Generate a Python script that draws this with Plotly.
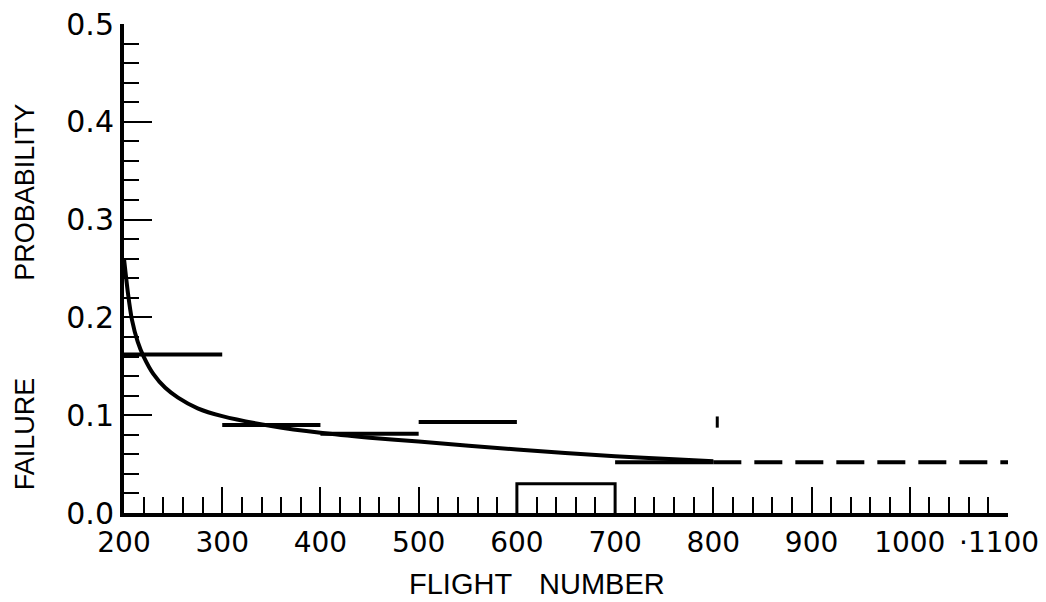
import plotly.graph_objects as go

# fitted failure-probability curve (solid)
curve_flight = [200, 204, 208, 214, 220, 230, 242, 255, 275, 300, 350, 400, 450, 500, 600, 700, 760, 800]
curve_prob = [0.26, 0.225, 0.198, 0.175, 0.16, 0.142, 0.128, 0.118, 0.107, 0.099, 0.089, 0.082, 0.077, 0.073, 0.065, 0.058, 0.055, 0.053]

# extrapolation (dashed)
extra_flight = [800, 1100]
extra_prob = [0.052, 0.052]

# observed rate per 100-flight block
block_start = [200, 300, 400, 500, 700]
block_end = [300, 400, 500, 600, 800]
block_prob = [0.162, 0.09, 0.081, 0.093, 0.052]

# 600-700 block drawn as a bracket
bracket_flight = [600, 600, 700, 700]
bracket_prob = [0.0, 0.03, 0.03, 0.0]

# stray mark near flight 800
mark_flight = [804]
mark_prob = [0.093]

x_ticks = [200, 300, 400, 500, 600, 700, 800, 900, 1000, 1100]
# trailing no-break spaces pull the last label left so it stays inside the page
x_labels = ["200", "300", "400", "500", "600", "700", "800", "900", "1000",
            "\u00b71100\u00a0\u00a0"]
y_ticks = [0.0, 0.1, 0.2, 0.3, 0.4, 0.5]
y_labels = ["0.0", "0.1", "0.2", "0.3", "0.4", "0.5"]

ink = "black"

fig = go.Figure()

for x0, x1, p in zip(block_start, block_end, block_prob):
    fig.add_trace(go.Scatter(x=[x0, x1], y=[p, p], mode="lines",
                             line=dict(color=ink, width=4)))

fig.add_trace(go.Scatter(x=bracket_flight, y=bracket_prob, mode="lines",
                         line=dict(color=ink, width=3)))

fig.add_trace(go.Scatter(x=curve_flight, y=curve_prob, mode="lines",
                         line=dict(color=ink, width=4, shape="spline", smoothing=0.6)))

fig.add_trace(go.Scatter(x=extra_flight, y=extra_prob, mode="lines",
                         line=dict(color=ink, width=4, dash="28px,13px")))

fig.add_trace(go.Scatter(x=mark_flight, y=mark_prob, mode="markers",
                         marker=dict(symbol="line-ns-open", size=8, color=ink,
                                     line=dict(color=ink, width=3))))

# the page body offsets the figure by 8px
fig.update_layout(
    width=1038,
    height=594,
    showlegend=False,
    plot_bgcolor="white",
    paper_bgcolor="white",
    margin=dict(l=116, r=38, t=16, b=89),
    font=dict(family="DejaVu Sans, sans-serif", color=ink),
)

fig.update_xaxes(
    range=[200, 1100],
    automargin=False,
    showgrid=False,
    zeroline=False,
    showline=True,
    linecolor=ink,
    linewidth=4,
    ticks="inside",
    ticklen=26,
    tickwidth=2,
    tickcolor=ink,
    tickvals=x_ticks,
    ticktext=x_labels,
    tickangle=0,
    tickfont=dict(size=28),
    ticklabelstandoff=1,
    ticklabeloverflow="allow",
    minor=dict(ticks="inside", dtick=20, ticklen=16, tickwidth=2, tickcolor=ink),
)

fig.update_yaxes(
    range=[0, 0.5],
    automargin=False,
    showgrid=False,
    zeroline=False,
    showline=True,
    linecolor=ink,
    linewidth=4,
    ticks="inside",
    ticklen=28,
    tickwidth=2,
    tickcolor=ink,
    tickvals=y_ticks,
    ticktext=y_labels,
    tickfont=dict(size=30),
    ticklabelstandoff=0,
    ticklabeloverflow="allow",
    minor=dict(ticks="inside", dtick=0.02, ticklen=15, tickwidth=2, tickcolor=ink),
)

x_title_font = dict(family="Liberation Sans, Arial, sans-serif", size=29, color=ink)
y_title_font = dict(family="Liberation Sans, Arial, sans-serif", size=27, color=ink)

fig.add_annotation(text="FLIGHT", xref="paper", yref="paper", x=0.381, y=-0.145,
                   xanchor="center", yanchor="middle", showarrow=False, font=x_title_font)
fig.add_annotation(text="NUMBER", xref="paper", yref="paper", x=0.541, y=-0.145,
                   xanchor="center", yanchor="middle", showarrow=False, font=x_title_font)
fig.add_annotation(text="FAILURE", xref="paper", yref="paper", x=-0.112, y=0.163,
                   xanchor="center", yanchor="middle", textangle=-90, showarrow=False,
                   font=y_title_font)
fig.add_annotation(text="PROBABILITY", xref="paper", yref="paper", x=-0.112, y=0.657,
                   xanchor="center", yanchor="middle", textangle=-90, showarrow=False,
                   font=y_title_font)

fig.write_html("out.html")
